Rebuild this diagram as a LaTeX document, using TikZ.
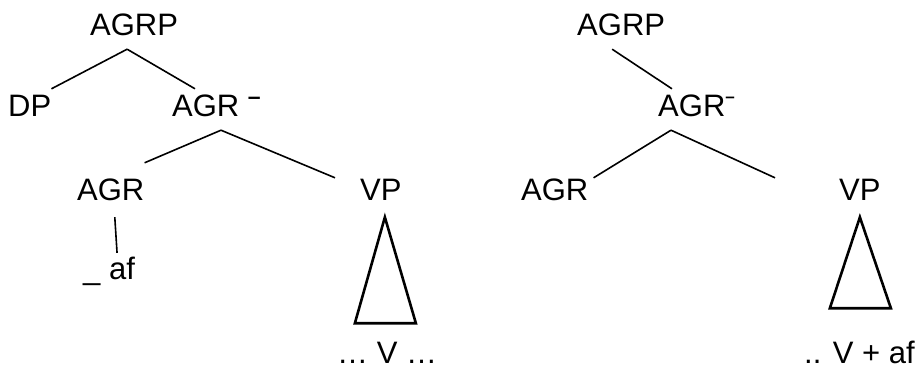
\documentclass[tikz,border=0pt]{standalone}
\usepackage{fontspec}
\setmainfont{Liberation Sans}
\usepackage{tikz}
\tikzstyle{cat} = [inner sep=0pt, anchor=base west, text height=28pt, text depth=13pt, font=\fontsize{31}{36}\selectfont]
\tikzstyle{branch} = [line width=1.6pt]
\tikzstyle{tri} = [line width=2.6pt, line join=miter]
\newcommand{\supdash}[2]{\raisebox{#2}{\fontsize{#1}{#1}\selectfont\bfseries –}}

\begin{document}
\begin{tikzpicture}[x=1pt, y=-1pt]
\useasboundingbox (0,0) rectangle (919,369);

% Left tree
\node[cat] (agrpL) at (90,36) {AGRP};
\node[cat] (dpL) at (8,117) {DP};
\node[cat] (agrbarL) at (172,117) {AGR \supdash{23}{13pt}};
\node[cat] (agrL) at (77,200) {AGR};
\node[cat] (vpL) at (360,200) {VP};
\node[cat] (afL) at (83,279) {\_ af};
\node[cat] (dotsL) at (337,363) {… V …};

\draw[branch] ([xshift=-7pt]agrpL.south) -- (dpL.north east);
\draw[branch] ([xshift=-7pt]agrpL.south) -- ([xshift=23pt]agrbarL.north west);
\draw[branch] ([xshift=49pt]agrbarL.south west) -- ([yshift=9pt]agrL.north east);
\draw[branch] ([xshift=49pt]agrbarL.south west) -- ([xshift=-25pt, yshift=-6pt]vpL.north west);
\draw[branch] ([xshift=4pt, yshift=-4pt]agrL.south) -- ([xshift=8pt, yshift=-2pt]afL.north);
\draw[tri] ([xshift=4pt, yshift=-4pt]vpL.south) -- ++(-30,106) -- ++(61,0) -- cycle;

% Right tree
\node[cat] (agrpR) at (577,36) {AGRP};
\node[cat] (agrbarR) at (658,117) {AGR\supdash{17}{14.5pt}};
\node[cat] (agrR) at (521,200) {AGR};
\node[cat] (vpR) at (839,200) {VP};
\node[cat] (dotsR) at (804,363) {.. V + af};

\draw[branch] ([xshift=-9pt]agrpR.south) -- ([xshift=14pt]agrbarR.north west);
\draw[branch] ([xshift=13pt]agrbarR.south west) -- ([xshift=5pt, yshift=-6pt]agrR.north east);
\draw[branch] ([xshift=13pt]agrbarR.south west) -- ([xshift=-64pt, yshift=-6pt]vpR.north west);
\draw[tri] ([yshift=-4pt]vpR.south) -- ++(-30,91) -- ++(61,0) -- cycle;

\end{tikzpicture}
\end{document}
